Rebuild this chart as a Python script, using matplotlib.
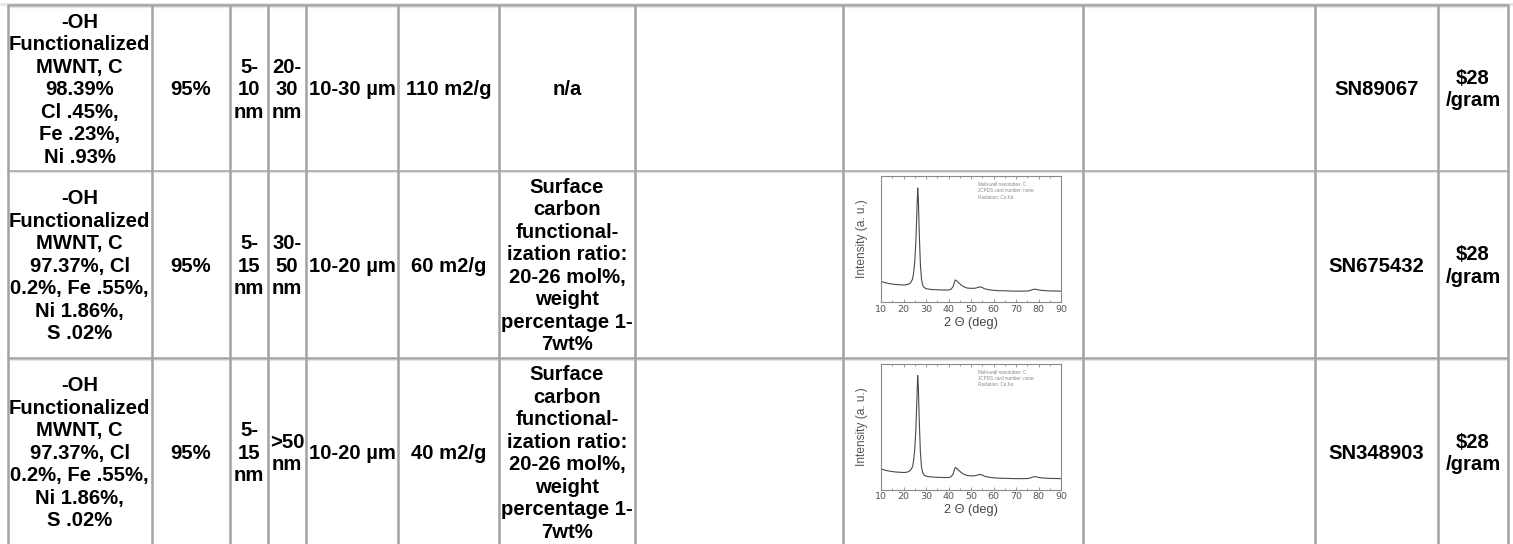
import matplotlib
matplotlib.use("Agg")
import matplotlib.pyplot as plt

# ---------------- data ----------------
names = [
    "-OH\nFunctionalized\nMWNT, C\n98.39%\nCl .45%,\nFe .23%,\nNi .93%",
    "-OH\nFunctionalized\nMWNT, C\n97.37%, Cl\n0.2%, Fe .55%,\nNi 1.86%,\nS .02%",
    "-OH\nFunctionalized\nMWNT, C\n97.37%, Cl\n0.2%, Fe .55%,\nNi 1.86%,\nS .02%",
]
purity = ["95%", "95%", "95%"]
inner_diam = ["5-\n10\nnm", "5-\n15\nnm", "5-\n15\nnm"]
outer_diam = ["20-\n30\nnm", "30-\n50\nnm", ">50\nnm"]
length = ["10-30 µm", "10-20 µm", "10-20 µm"]
ssa = ["110 m2/g", "60 m2/g", "40 m2/g"]
func_text = "Surface\ncarbon\nfunctional-\nization ratio:\n20-26 mol%,\nweight\npercentage 1-\n7wt%"
functionalization = ["n/a", func_text, func_text]
blank1 = ["", "", ""]
has_xrd = [False, True, True]
blank2 = ["", "", ""]
sku = ["SN89067", "SN675432", "SN348903"]
price = ["$28\n/gram", "$28\n/gram", "$28\n/gram"]

xrd_two_theta = [10, 11, 12, 14, 16, 18, 20, 21, 22, 23, 24, 24.5, 25, 25.5, 26, 26.3, 26.6, 27,
                 27.5, 28, 28.5, 29, 30, 32, 35, 38, 40, 41, 42, 42.5, 43, 43.5, 44, 45, 46, 47,
                 48, 50, 52, 53, 54, 55, 56, 58, 60, 62, 65, 68, 70, 72, 75, 76, 77, 78, 79, 80,
                 81, 83, 85, 88, 90]
xrd_intensity = [0.165, 0.158, 0.152, 0.145, 0.14, 0.137, 0.135, 0.136, 0.14, 0.15, 0.18, 0.23,
                 0.32, 0.48, 0.74, 0.905, 0.82, 0.55, 0.3, 0.18, 0.135, 0.118, 0.106, 0.1, 0.097,
                 0.095, 0.095, 0.1, 0.12, 0.15, 0.175, 0.17, 0.16, 0.145, 0.13, 0.12, 0.112,
                 0.108, 0.11, 0.115, 0.12, 0.115, 0.105, 0.097, 0.093, 0.09, 0.089, 0.087, 0.086,
                 0.086, 0.087, 0.09, 0.096, 0.102, 0.1, 0.096, 0.093, 0.09, 0.088, 0.087, 0.086]
xrd_xticks = [10, 20, 30, 40, 50, 60, 70, 80, 90]
xrd_note = "Multi-wall nanotubes: C\nJCPDS card number: none\nRadiation: Cu Kα"

# ---------------- layout (pixels) ----------------
W, H = 1513, 544
col_edges = [7.5, 152, 230, 268, 306, 398, 499, 635, 843, 1083, 1315, 1438, 1508]
row_edges = [5, 170.5, 358, 545]
line_h = 22.5
FS = 14.6  # pt
border_col = "#a3a3a3"

fig = plt.figure(figsize=(W / 100, H / 100), dpi=100)
fig.patch.set_facecolor("white")
ax = fig.add_axes([0, 0, 1, 1])
ax.set_xlim(0, W)
ax.set_ylim(H, 0)
ax.axis("off")

# borders
ax.plot([0, W], [3.5, 3.5], color="#e4e4e4", lw=2.0, solid_capstyle="butt")
for y in row_edges[:-1]:
    ax.plot([col_edges[0] - 1, col_edges[-1] + 1], [y, y], color=border_col, lw=1.8,
            solid_capstyle="butt")
    ax.plot([col_edges[0] - 1, col_edges[-1] + 1], [y + 1.8, y + 1.8], color="#e6e6e6", lw=1.0,
            solid_capstyle="butt")
for x in col_edges:
    ax.plot([x, x], [row_edges[0], H], color=border_col, lw=1.8, solid_capstyle="butt")

columns = [names, purity, inner_diam, outer_diam, length, ssa, functionalization,
           blank1, None, blank2, sku, price]


def cell_text(text, cx, cy):
    lines = text.split("\n")
    n = len(lines)
    for i, ln in enumerate(lines):
        yc = cy + (i - (n - 1) / 2) * line_h
        ax.text(cx, yc + 7.3, ln, ha="center", va="baseline", fontsize=FS,
                fontweight="bold", family=["Liberation Sans", "DejaVu Sans"], color="black")


for r in range(3):
    cy = (row_edges[r] + row_edges[r + 1]) / 2
    for c, col in enumerate(columns):
        if col is None:
            continue
        cx = (col_edges[c] + col_edges[c + 1]) / 2
        if col[r]:
            cell_text(col[r], cx, cy)

# XRD thumbnails
ax_left, ax_right = 881, 1061
for r in range(3):
    if not has_xrd[r]:
        continue
    top = row_edges[r] + 5.5
    bottom = top + 126
    a = fig.add_axes([ax_left / W, 1 - bottom / H, (ax_right - ax_left) / W, (bottom - top) / H])
    a.plot(xrd_two_theta, xrd_intensity, color="#4a4a4a", lw=0.8)
    a.set_xlim(10, 90)
    a.set_ylim(0, 1)
    a.set_xticks(xrd_xticks)
    a.set_xticks(range(15, 90, 10), minor=True)
    a.set_yticks([])
    a.tick_params(axis="x", which="both", direction="in", top=True, labelsize=6.8,
                  labelcolor="#555", color="#888", length=2.5, width=0.6, pad=2)
    a.tick_params(axis="x", which="minor", length=1.5)
    for s in a.spines.values():
        s.set_color("#8a8a8a")
        s.set_linewidth(0.8)
    a.text(-0.106, 0.5, "Intensity (a. u.)", rotation=90, ha="center", va="center",
           transform=a.transAxes, fontsize=8.6, color="#555",
           family=["Liberation Sans", "DejaVu Sans"])
    a.text(0.5, -0.165, "2 \u0398 (deg)", ha="center", va="center", transform=a.transAxes,
           fontsize=9.2, color="#444", family=["Liberation Sans", "DejaVu Sans"])
    a.text(0.54, 0.95, xrd_note, ha="left", va="top", transform=a.transAxes, fontsize=3.3,
           color="#888", linespacing=1.3, family=["Liberation Sans", "DejaVu Sans"])

fig.savefig("out.png", dpi=100, facecolor="white")
